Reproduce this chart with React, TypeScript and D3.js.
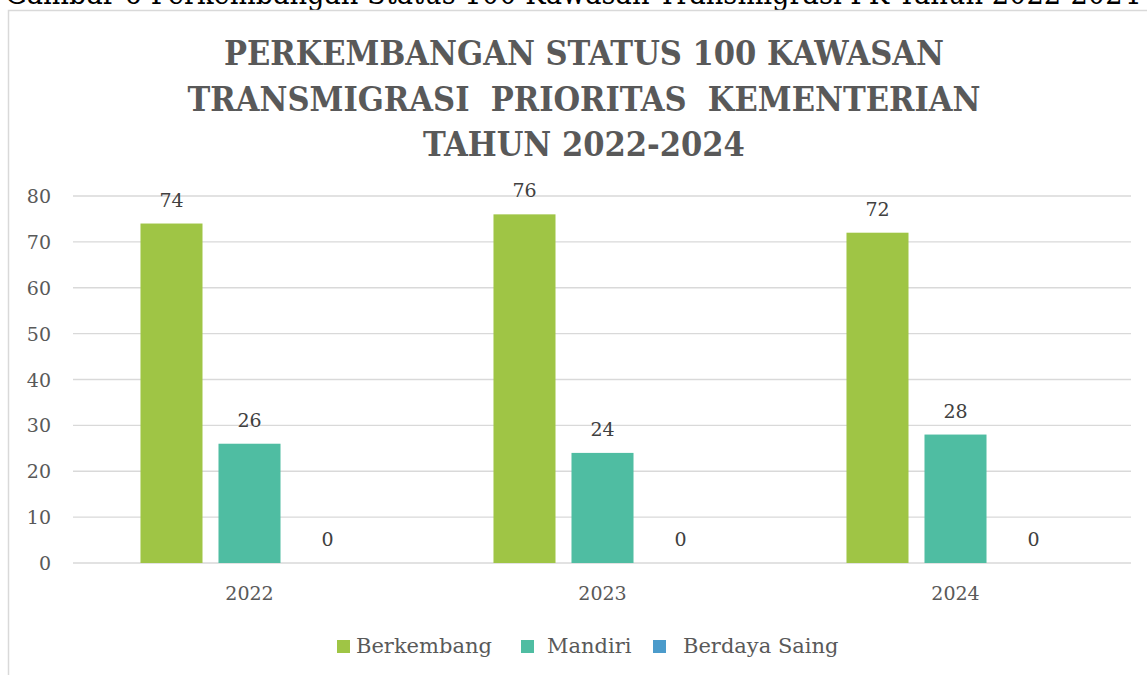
import React from "react";
import * as d3 from "d3";

const years = ["2022", "2023", "2024"];
const seriesNames = ["Berkembang", "Mandiri", "Berdaya Saing"];
const berkembang = [74, 76, 72];
const mandiri = [26, 24, 28];
const berdayaSaing = [0, 0, 0];
const yTicks = [0, 10, 20, 30, 40, 50, 60, 70, 80];
const titleLines = [
  "PERKEMBANGAN STATUS 100 KAWASAN",
  "TRANSMIGRASI  PRIORITAS  KEMENTERIAN",
  "TAHUN 2022-2024",
];
const caption = "Gambar 6 Perkembangan Status 100 Kawasan Transmigrasi PK Tahun 2022-2024";
const colors = ["#9fc545", "#4fbda2", "#4b9bcb"];

const W = 1147;
const H = 675;
const FONT = "'DejaVu Serif', 'Liberation Serif', serif";

export default function App() {
  const series = [berkembang, mandiri, berdayaSaing];
  const x0 = d3.scaleBand().domain(years).range([73, 1132]).paddingInner(0).paddingOuter(0);
  const x1 = d3
    .scaleBand()
    .domain(seriesNames)
    .range([0, x0.bandwidth()])
    .paddingInner(0.205)
    .paddingOuter(0.865);
  const y = d3.scaleLinear().domain([0, 80]).range([563, 196]);

  return (
    <svg
      width={W}
      height={H}
      style={{ position: "absolute", left: 0, top: 0, background: "#fff" }}
      fontFamily={FONT}
    >
      <rect x={0} y={0} width={W} height={H} fill="#fff" />
      <text
        x={5}
        y={4}
        fontSize={31}
        fill="#000"
        textLength={1135}
        lengthAdjust="spacingAndGlyphs"
      >
        {caption}
      </text>
      <rect x={8.5} y={10.5} width={W + 20} height={H + 20} fill="none" stroke="#d9d9d9" strokeWidth={1.5} />
      {titleLines.map((t, i) => (
        <text
          key={i}
          x={584}
          y={65 + i * 45.5}
          textAnchor="middle"
          fontSize={34}
          fontWeight="bold"
          fontStretch="condensed"
          fill="#595959"
          style={{ whiteSpace: "pre" }}
        >
          {t}
        </text>
      ))}
      {yTicks.map((t) => (
        <g key={t}>
          <line x1={73} x2={1131} y1={y(t)} y2={y(t)} stroke="#d9d9d9" strokeWidth={1.3} />
          <text x={51} y={y(t) + 7} textAnchor="end" fontSize={19} fill="#595959">
            {t}
          </text>
        </g>
      ))}
      {years.map((yr, i) => (
        <g key={yr}>
          {series.map((vals, j) => {
            const bx = (x0(yr) as number) + (x1(seriesNames[j]) as number);
            const bw = x1.bandwidth();
            return (
              <g key={j}>
                <rect x={bx} y={y(vals[i])} width={bw} height={y(0) - y(vals[i])} fill={colors[j]} />
                <text
                  x={bx + bw / 2}
                  y={y(vals[i]) - 17}
                  textAnchor="middle"
                  fontSize={19}
                  fill="#404040"
                >
                  {vals[i]}
                </text>
              </g>
            );
          })}
          <text
            x={(x0(yr) as number) + x0.bandwidth() / 2}
            y={600}
            textAnchor="middle"
            fontSize={19}
            fill="#595959"
          >
            {yr}
          </text>
        </g>
      ))}
      {(() => {
        const items = [
          { sx: 337, tx: 356 },
          { sx: 521, tx: 547 },
          { sx: 653, tx: 683 },
        ];
        return seriesNames.map((n, j) => (
          <g key={n}>
            <rect x={items[j].sx} y={640} width={13} height={13} fill={colors[j]} />
            <text x={items[j].tx} y={653} fontSize={21} fill="#595959">
              {n}
            </text>
          </g>
        ));
      })()}
    </svg>
  );
}
